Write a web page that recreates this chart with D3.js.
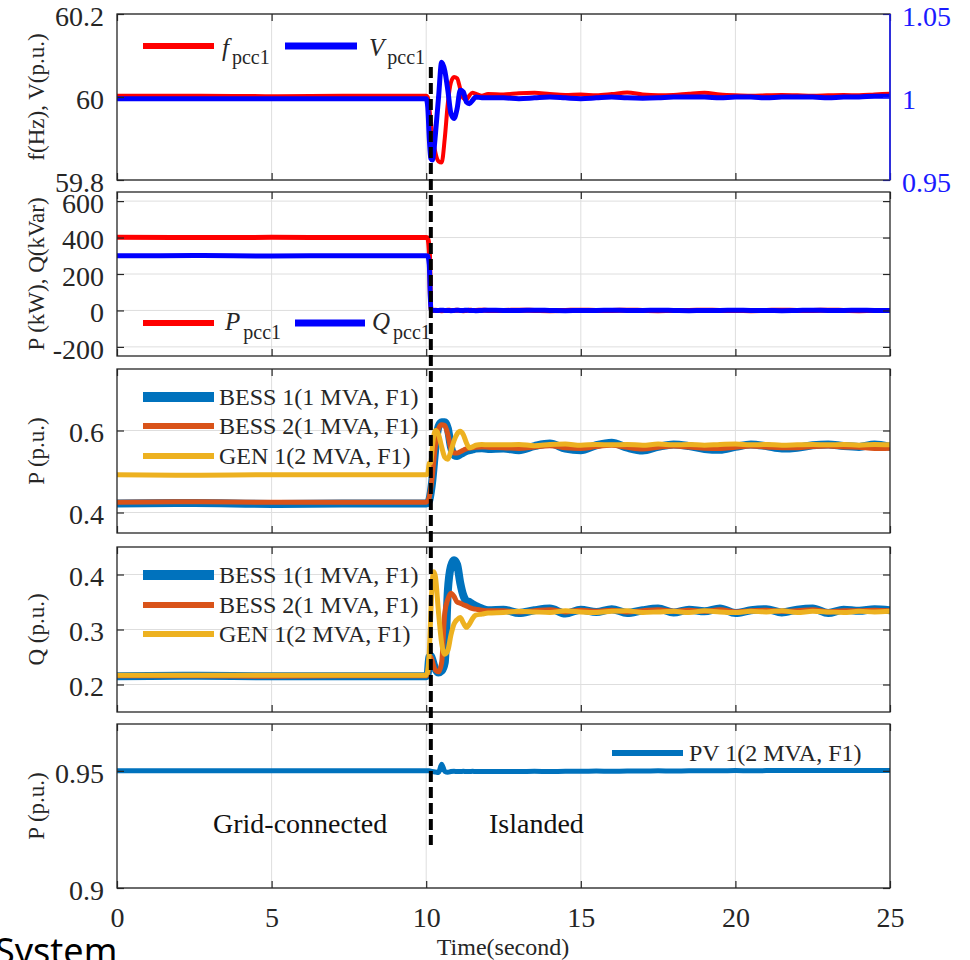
<!DOCTYPE html>
<html>
<head>
<meta charset="utf-8">
<script src="https://cdn.jsdelivr.net/npm/d3@7"></script>
<style>
  html, body { margin: 0; padding: 0; background: #fff; }
  svg { display: block; }
  svg text { font-family: "Liberation Serif", "Times New Roman", serif; }
  svg text.caption { font-family: "Noto Sans", "Open Sans", sans-serif; }
</style>
</head>
<body>
<svg id="chart" width="970" height="960"></svg>
<script>
// ---- Sample times (s): pre-event, transient after islanding, steady state ----
const timeSec = [
  0, 2.5, 5, 7.5,
  10.0, 10.05, 10.1, 10.15, 10.2, 10.25, 10.3, 10.4, 10.5, 10.6, 10.7, 10.8, 10.9, 11.0,
  11.1, 11.2, 11.3, 11.4, 11.5, 11.6, 11.8, 12.0,
  12.5, 13, 13.5, 14, 14.5, 15, 15.5, 16, 16.5, 17, 17.5, 18, 18.5, 19, 19.5, 20,
  20.5, 21, 21.5, 22, 22.5, 23, 23.5, 24, 24.5, 25
];

// PCC1 frequency (Hz) and voltage (p.u.)
const fPcc1 = [
  60.003, 60.003, 60.002, 60.003,
  60.003, 60.0, 59.975, 59.94, 59.91, 59.885, 59.865, 59.845, 59.842, 59.9, 59.985, 60.035, 60.048, 60.045,
  60.02, 59.997, 59.993, 60.004, 60.01, 60.008, 60.003, 60.007,
  60.006, 60.009, 60.01, 60.007, 60.005, 60.006, 60.004, 60.007, 60.011, 60.006, 60.004, 60.005, 60.008, 60.01, 60.006, 60.004,
  60.003, 60.004, 60.005, 60.004, 60.003, 60.004, 60.005, 60.004, 60.006, 60.008
];
const vPcc1 = [
  0.999, 0.999, 0.999, 0.999,
  0.999, 0.994, 0.975, 0.963, 0.962, 0.968, 0.978, 1.0, 1.021, 1.016, 1.004, 0.99, 0.987, 0.993,
  1.004, 1.003, 0.997, 0.996, 0.998, 1.0, 0.9995, 0.9995,
  0.9995, 0.999, 0.9995, 1.0, 0.9995, 0.999, 0.9995, 1.0, 0.9995, 0.9993, 0.9995, 1.0, 1.0, 1.0, 0.9995, 1.0,
  1.0, 0.9995, 1.0, 1.0, 1.0, 0.9995, 1.0, 1.0, 1.0005, 1.0005
];

// PCC1 active (kW) and reactive (kVar) power
const pPcc1 = [
  402, 400, 401, 400,
  400, 398, 330, 4, 1, 0, 1, 0, -1, 0, 1, 0, 0, 1,
  0, -1, 0, 1, 0, 0, 1, 0,
  0, 1, 0, -1, 0, 1, 0, 0, 1, 0, -1, 0, 0, 1, 0, 0,
  -1, 0, 1, 0, 0, 1, 0, -1, 0, 0
];
const qPcc1 = [
  300, 301, 299, 300,
  300, 299, 250, 3, 0, 1, 0, 0, 1, 0, 0, -1, 0, 1,
  0, 0, 1, 0, 0, -1, 0, 1,
  0, 0, 1, 0, -1, 0, 0, 1, 0, 0, 1, 0, -1, 0, 0, 1,
  0, 0, -1, 0, 1, 0, 0, 1, 0, 0
];

// Active power of the DERs (p.u.)
const bess1P = [
  0.422, 0.423, 0.421, 0.422,
  0.422, 0.424, 0.43, 0.45, 0.48, 0.52, 0.56, 0.61, 0.62, 0.62, 0.605, 0.56, 0.54, 0.538,
  0.542, 0.546, 0.55, 0.552, 0.554, 0.556, 0.557, 0.555,
  0.556, 0.552, 0.562, 0.568, 0.556, 0.552, 0.564, 0.57, 0.558, 0.551, 0.56, 0.566, 0.562, 0.555, 0.553, 0.56,
  0.566, 0.562, 0.556, 0.558, 0.564, 0.566, 0.562, 0.56, 0.566, 0.56
];
const bess2P = [
  0.425, 0.426, 0.425, 0.425,
  0.425, 0.428, 0.438, 0.46, 0.49, 0.53, 0.565, 0.605, 0.614, 0.612, 0.59, 0.555, 0.545, 0.545,
  0.548, 0.552, 0.555, 0.557, 0.558, 0.559, 0.56, 0.559,
  0.558, 0.556, 0.56, 0.563, 0.558, 0.556, 0.561, 0.564, 0.559, 0.555, 0.559, 0.562, 0.56, 0.557, 0.556, 0.559,
  0.562, 0.56, 0.558, 0.558, 0.561, 0.562, 0.56, 0.559, 0.556, 0.557
];
const gen1P = [
  0.492, 0.491, 0.492, 0.492,
  0.492, 0.495, 0.52, 0.522, 0.56, 0.59, 0.6, 0.59, 0.56, 0.535, 0.53, 0.55, 0.575, 0.592,
  0.598, 0.59, 0.57, 0.558, 0.56, 0.564, 0.566, 0.565,
  0.565, 0.566, 0.563, 0.566, 0.567, 0.564, 0.566, 0.565, 0.566, 0.564, 0.567, 0.565, 0.566, 0.564, 0.566, 0.567,
  0.565, 0.566, 0.564, 0.565, 0.566, 0.565, 0.566, 0.564, 0.566, 0.565
];

// Reactive power of the DERs (p.u.)
const bess1Q = [
  0.215, 0.216, 0.215, 0.215,
  0.215, 0.22, 0.25, 0.252, 0.245, 0.235, 0.228, 0.222, 0.225, 0.24, 0.37, 0.415, 0.426, 0.418,
  0.385, 0.362, 0.352, 0.35, 0.346, 0.343, 0.338, 0.335,
  0.336, 0.33, 0.335, 0.338, 0.329, 0.336, 0.332, 0.337, 0.33, 0.335, 0.338, 0.331, 0.336, 0.333, 0.338, 0.33,
  0.335, 0.337, 0.331, 0.336, 0.338, 0.33, 0.336, 0.334, 0.337, 0.335
];
const bess2Q = [
  0.216, 0.216, 0.215, 0.216,
  0.216, 0.22, 0.25, 0.25, 0.242, 0.232, 0.226, 0.223, 0.24, 0.33, 0.355, 0.366, 0.36, 0.35,
  0.348, 0.345, 0.343, 0.34, 0.338, 0.337, 0.335, 0.334,
  0.334, 0.332, 0.334, 0.336, 0.332, 0.335, 0.333, 0.335, 0.332, 0.334, 0.336, 0.333, 0.335, 0.333, 0.336, 0.332,
  0.334, 0.335, 0.333, 0.334, 0.336, 0.332, 0.334, 0.334, 0.335, 0.334
];
const gen1Q = [
  0.217, 0.217, 0.217, 0.217,
  0.217, 0.225, 0.26, 0.33, 0.39, 0.405, 0.395, 0.33, 0.275, 0.255, 0.262, 0.29, 0.31, 0.318,
  0.322, 0.312, 0.304, 0.31, 0.32, 0.326, 0.328, 0.33,
  0.331, 0.333, 0.332, 0.331, 0.334, 0.332, 0.331, 0.333, 0.334, 0.331, 0.332, 0.333, 0.331, 0.334, 0.332, 0.331,
  0.333, 0.332, 0.334, 0.331, 0.333, 0.332, 0.331, 0.333, 0.332, 0.333
];

// PV active power (p.u.)
const pv1P = [
  0.95, 0.95, 0.95, 0.95,
  0.95, 0.95, 0.95, 0.9499, 0.9497, 0.9496, 0.9495, 0.9493, 0.9528, 0.9498, 0.9494, 0.9497, 0.9498, 0.9497,
  0.9497, 0.9498, 0.9497, 0.9497, 0.9498, 0.9497, 0.9497, 0.9497,
  0.9497, 0.9497, 0.9498, 0.9497, 0.9498, 0.9498, 0.9499, 0.9498, 0.9499, 0.9499, 0.95, 0.9499, 0.95, 0.95, 0.95, 0.9501,
  0.95, 0.9501, 0.9501, 0.9501, 0.9502, 0.9501, 0.9502, 0.9502, 0.9502, 0.9502
];

// Axis ticks
const xTicks = [0, 5, 10, 15, 20, 25];
const fTicks = [59.8, 60, 60.2];
const vTicks = [0.95, 1, 1.05];
const pqTicks = [-200, 0, 200, 400, 600];
const derPTicks = [0.4, 0.6];
const derQTicks = [0.2, 0.3, 0.4];
const pvTicks = [0.9, 0.95];
const islandingTime = 10.15;

// ---- Layout ----
const svg = d3.select("#chart");
svg.append("rect").attr("width", 970).attr("height", 960).attr("fill", "#fff");

const SERIF = "'Liberation Serif', 'Times New Roman', serif";
const INK = "#262626";
const C = { red: "#ff0000", blue: "#0000ff", b1: "#0072BD", b2: "#D95319", g1: "#EDB120" };

const x = d3.scaleLinear().domain([0, 25]).range([117, 890]);

const panels = [
  { top: 14,  bottom: 180, domain: [59.8, 60.2], ticks: fTicks,   label: "f(Hz), V(p.u.)" },
  { top: 192, bottom: 356, domain: [-250, 650],  ticks: pqTicks,  label: "P (kW), Q(kVar)" },
  { top: 369, bottom: 533, domain: [0.35, 0.75], ticks: derPTicks, label: "P (p.u.)" },
  { top: 547, bottom: 712, domain: [0.15, 0.45], ticks: derQTicks, label: "Q (p.u.)" },
  { top: 724, bottom: 888, domain: [0.9, 0.97],  ticks: pvTicks,  label: "P (p.u.)" }
];

const defs = svg.append("defs");

panels.forEach((p, i) => {
  p.y = d3.scaleLinear().domain(p.domain).range([p.bottom, p.top]);
  p.g = svg.append("g");
  defs.append("clipPath").attr("id", "clip" + i)
    .append("rect").attr("x", x(0)).attr("y", p.top)
    .attr("width", x(25) - x(0)).attr("height", p.bottom - p.top);

  // grid
  const grid = p.g.append("g").attr("stroke", "#dedede").attr("stroke-width", 1);
  xTicks.slice(1, -1).forEach(t => {
    grid.append("line").attr("x1", x(t)).attr("x2", x(t)).attr("y1", p.top).attr("y2", p.bottom);
  });
  p.ticks.forEach(t => {
    grid.append("line").attr("x1", x(0)).attr("x2", x(25)).attr("y1", p.y(t)).attr("y2", p.y(t));
  });

  p.plot = p.g.append("g").attr("clip-path", `url(#clip${i})`);
});

function drawSeries(p, values, color, width, yScale) {
  const ys = yScale || p.y;
  const line = d3.line()
    .x((d, k) => x(timeSec[k]))
    .y(d => ys(d))
    .curve(d3.curveMonotoneX);
  p.plot.append("path").datum(values)
    .attr("d", line)
    .attr("fill", "none")
    .attr("stroke", color)
    .attr("stroke-width", width)
    .attr("stroke-linejoin", "round")
    .attr("stroke-linecap", "round");
}

// Panel 1: frequency (left) and voltage (right axis)
const vScale = d3.scaleLinear().domain([0.95, 1.05]).range([panels[0].bottom, panels[0].top]);
drawSeries(panels[0], fPcc1, C.red, 4);
drawSeries(panels[0], vPcc1, C.blue, 5, vScale);
// Panel 2: PCC power
drawSeries(panels[1], pPcc1, C.red, 5);
drawSeries(panels[1], qPcc1, C.blue, 5);
// Panel 3: DER active power
drawSeries(panels[2], bess1P, C.b1, 8);
drawSeries(panels[2], bess2P, C.b2, 5);
drawSeries(panels[2], gen1P, C.g1, 5);
// Panel 4: DER reactive power
drawSeries(panels[3], bess1Q, C.b1, 8);
drawSeries(panels[3], bess2Q, C.b2, 5);
drawSeries(panels[3], gen1Q, C.g1, 5);
// Panel 5: PV
drawSeries(panels[4], pv1P, C.b1, 5);

// ---- Axes and frames ----
const TICK_FONT = "28px";
function styleAxis(g, color, vertical) {
  g.attr("font-family", null).attr("font-size", null);
  g.select(".domain").remove();
  g.selectAll(".tick line").attr("stroke", color).attr("stroke-width", 1.2);
  const labels = g.selectAll(".tick text")
    .attr("fill", color)
    .style("font-family", SERIF)
    .style("font-size", TICK_FONT);
  if (vertical) labels.attr("dy", "0.4em");
}

panels.forEach((p, i) => {
  const isLast = i === panels.length - 1;
  // bottom ticks (labels only on the last panel)
  const bottom = p.g.append("g").attr("transform", `translate(0,${p.bottom})`)
    .call(d3.axisBottom(x).tickValues(xTicks).tickSize(-7).tickPadding(19)
      .tickFormat(isLast ? (d => String(d)) : () => ""));
  styleAxis(bottom, INK, false);
  // top ticks
  const top = p.g.append("g").attr("transform", `translate(0,${p.top})`)
    .call(d3.axisTop(x).tickValues(xTicks).tickSize(-7).tickFormat(() => ""));
  styleAxis(top, INK, false);
  // left ticks with labels
  const left = p.g.append("g").attr("transform", `translate(${x(0)},0)`)
    .call(d3.axisLeft(p.y).tickValues(p.ticks).tickSize(-7).tickPadding(13).tickFormat(d => String(d)));
  styleAxis(left, INK, true);
  // right ticks
  if (i === 0) {
    const right = p.g.append("g").attr("transform", `translate(${x(25)},0)`)
      .call(d3.axisRight(vScale).tickValues(vTicks).tickSize(-7).tickPadding(12).tickFormat(d => String(d)));
    styleAxis(right, "#1a1aff", true);
  } else {
    const right = p.g.append("g").attr("transform", `translate(${x(25)},0)`)
      .call(d3.axisRight(p.y).tickValues(p.ticks).tickSize(-7).tickFormat(() => ""));
    styleAxis(right, INK, true);
  }
  // frame
  p.g.append("rect")
    .attr("x", x(0)).attr("y", p.top)
    .attr("width", x(25) - x(0)).attr("height", p.bottom - p.top)
    .attr("fill", "none").attr("stroke", INK).attr("stroke-width", 1.3);
  if (i === 0) {
    p.g.append("line").attr("x1", x(25)).attr("x2", x(25)).attr("y1", p.top).attr("y2", p.bottom)
      .attr("stroke", "#1a1aff").attr("stroke-width", 1.5);
  }
  // y-axis title
  p.g.append("text")
    .attr("transform", `translate(44,${(p.top + p.bottom) / 2}) rotate(-90)`)
    .attr("text-anchor", "middle")
    .style("font-family", SERIF).style("font-size", "23px").attr("fill", INK)
    .text(p.label);
});

// x-axis title
svg.append("text")
  .attr("x", 503).attr("y", 955)
  .attr("text-anchor", "middle")
  .style("font-family", SERIF).style("font-size", "24px").attr("fill", INK)
  .text("Time(second)");

// ---- Legends ----
function legendLine(xa, xb, y, color, width) {
  svg.append("line").attr("x1", xa).attr("x2", xb).attr("y1", y).attr("y2", y)
    .attr("stroke", color).attr("stroke-width", width);
}
function subLabel(xp, y, main, sub, dy) {
  const t = svg.append("text").attr("x", xp).attr("y", y)
    .style("font-family", SERIF).style("font-size", "25px").attr("fill", INK);
  t.append("tspan").attr("font-style", "italic").text(main);
  t.append("tspan").style("font-size", "20px").attr("dx", 3).attr("dy", dy).text(sub);
}
function plainLabel(xp, y, txt) {
  svg.append("text").attr("x", xp).attr("y", y)
    .style("font-family", SERIF).style("font-size", "24px").attr("fill", INK).text(txt);
}

legendLine(143, 214, 46, C.red, 6);
subLabel(222, 56, "f", "pcc1", 8);
legendLine(285, 357, 46, C.blue, 7);
subLabel(369, 56, "V", "pcc1", 8);

legendLine(143, 214, 323, C.red, 6);
subLabel(225, 330, "P", "pcc1", 9);
legendLine(295, 365, 323, C.blue, 7);
subLabel(372, 330, "Q", "pcc1", 9);

const derNames = ["BESS 1(1 MVA, F1)", "BESS 2(1 MVA, F1)", "GEN 1(2 MVA, F1)"];
const derColors = [C.b1, C.b2, C.g1];
const derWidths = [10, 6, 6];
[[397, 426, 456], [575, 605, 634]].forEach(rows => {
  rows.forEach((y, k) => {
    legendLine(143, 214, y, derColors[k], derWidths[k]);
    plainLabel(219, y + 8, derNames[k]);
  });
});

legendLine(612, 683, 753, C.b1, 6);
plainLabel(689, 761, "PV 1(2 MVA, F1)");

// ---- Operating mode annotations ----
svg.append("text").attr("x", 213).attr("y", 833)
  .style("font-family", SERIF).style("font-size", "28px").attr("fill", "#111").text("Grid-connected");
svg.append("text").attr("x", 489).attr("y", 833)
  .style("font-family", SERIF).style("font-size", "28px").attr("fill", "#111").text("Islanded");

// Islanding instant
svg.append("line")
  .attr("x1", x(islandingTime)).attr("x2", x(islandingTime))
  .attr("y1", 67).attr("y2", 845)
  .attr("stroke", "#000").attr("stroke-width", 4)
  .attr("stroke-dasharray", "11,5");

// Slide caption fragment at the bottom edge
svg.append("text").attr("class", "caption").attr("x", -5).attr("y", 964)
  .style("font-size", "36px").attr("fill", "#000")
  .text("System");
</script>
</body>
</html>
